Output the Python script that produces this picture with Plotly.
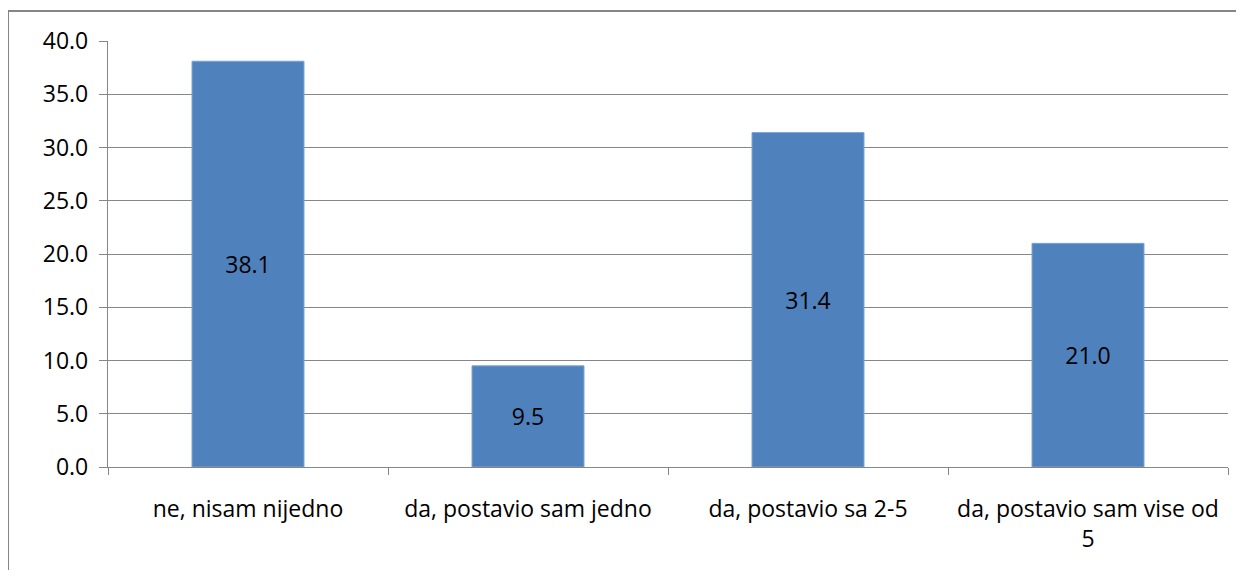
import plotly.graph_objects as go

categories = ["ne, nisam nijedno", "da, postavio sam jedno", "da, postavio sa 2-5", "da, postavio sam vise od<br>5"]
values = [38.1, 9.5, 31.4, 21.0]
y_ticks = [0, 5, 10, 15, 20, 25, 30, 35, 40]

OFF = 8  # default body margin of the html page
W, H = 1244 - 2 * OFF, 578 - 2 * OFF
# target positions in page pixels
L, R, T, B = 108 - OFF, 1228 - OFF, 41 - OFF, 467 - OFF
font_family = "'Open Sans', Carlito, Lato, sans-serif"
FS = 23

fig = go.Figure()
fig.add_trace(go.Bar(
    x=categories, y=values,
    marker=dict(color="#4F81BD", line=dict(color="#7FA3D0", width=1)),
    width=0.4,
    text=[f"{v:.1f}" for v in values],
    textposition="inside", insidetextanchor="middle",
    textfont=dict(color="#000000", size=FS, family=font_family),
    showlegend=False,
))

def px_x(p):
    return (p - L) / (R - L)

def px_y(p):
    return (B - p) / (B - T)

fig.add_shape(type="rect", xref="paper", yref="paper",
              x0=px_x(0), x1=px_x(W + 20), y0=px_y(H + 20), y1=px_y(11 - OFF),
              line=dict(color="#868686", width=2), fillcolor="rgba(0,0,0,0)", layer="below")

fig.update_layout(
    width=W, height=H,
    margin=dict(l=L, r=W - R, t=T, b=H - B, pad=0),
    paper_bgcolor="white", plot_bgcolor="white",
    font=dict(family=font_family, size=FS, color="#000000"),
    bargap=0.6,
)
fig.update_yaxes(
    range=[0, 40], tickvals=y_ticks, ticktext=[f"{v:.1f}" for v in y_ticks],
    showgrid=True, gridcolor="#868686", gridwidth=1.3,
    showline=True, linecolor="#868686", linewidth=1.3,
    ticks="outside", ticklen=8, tickcolor="#868686", tickwidth=1.3,
    zeroline=False, fixedrange=True,
    ticklabelstandoff=6,
    tickfont=dict(size=FS, family=font_family),
)
fig.update_xaxes(
    showline=True, linecolor="#868686", linewidth=1.3,
    ticks="outside", ticklen=7, tickcolor="#868686", tickwidth=1.3,
    tickson="boundaries", showgrid=False,
    ticklabelstandoff=21,
    tickfont=dict(size=FS, family=font_family),
    tickangle=0,
)

fig.write_html("out.html")
